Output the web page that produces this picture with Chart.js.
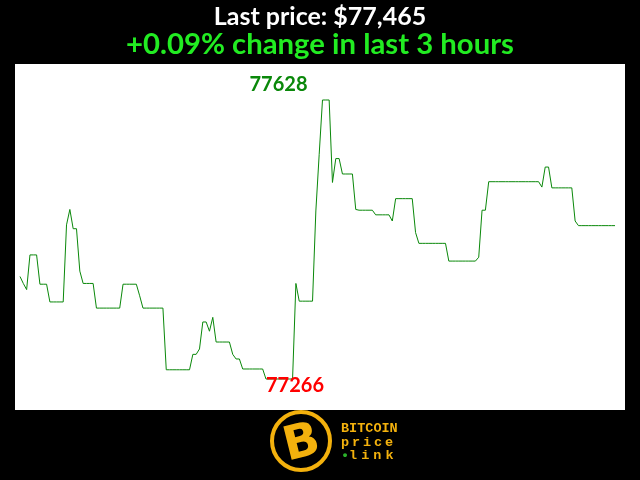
<!DOCTYPE html>
<html>
<head>
<meta charset="utf-8">
<script src="https://cdn.jsdelivr.net/npm/chart.js@4.4.0/dist/chart.umd.min.js"></script>
<style>
  body { margin: 0; background: #000; }
  #wrap { position: relative; width: 640px; height: 480px; }
  .head { position: absolute; left: 0; width: 640px; text-align: center; font-family: Lato, sans-serif; font-weight: bold; white-space: nowrap; }
  #title { top: 0px; font-size: 25px; line-height: 30px; color: #fff; }
  #subtitle { top: 25px; font-size: 29.3px; line-height: 35px; color: #22ec22; }
  #logo { position: absolute; left: 270px; top: 410px; width: 62px; height: 62px; }
  #ring { position: absolute; left: 0; top: 0; width: 54px; height: 54px; border: 4px solid #f3b10d; border-radius: 50%; }
  #bee { position: absolute; left: 0; top: 3px; width: 62px; text-align: center; font: bold 47px "DejaVu Sans", sans-serif; color: #f3b10d; transform: rotate(-14deg); }
  #brand { position: absolute; left: 341px; top: 422px; font: bold 13.5px "Liberation Mono", monospace; line-height: 13.5px; color: #f3b10d; }
  #brand .p { letter-spacing: 2.9px; }
  #brand .l { letter-spacing: 4px; }
  #brand .dot { color: #2ab02a; letter-spacing: 0; }
</style>
</head>
<body>
<div id="wrap">
  <canvas id="myChart" width="640" height="480"></canvas>
  <div id="title" class="head"></div>
  <div id="subtitle" class="head"></div>
  <div id="logo"><div id="ring"></div><div id="bee">B</div></div>
  <div id="brand">BITCOIN<br><span class="p">price</span><br><span class="dot">&bull;</span><span class="l">link</span></div>
</div>
<script>
// one price per minute, last 3 hours
let prices = [
  77399, 77390, 77382, 77427, 77427, 77427, 77389, 77389, 77389, 77366,
  77366, 77366, 77366, 77366, 77466, 77486, 77461, 77461, 77406, 77390,
  77390, 77390, 77390, 77358, 77358, 77358, 77358, 77358, 77358, 77358,
  77358, 77389, 77389, 77389, 77389, 77389, 77374, 77358, 77358, 77358,
  77358, 77358, 77358, 77358, 77278, 77278, 77278, 77278, 77278, 77278,
  77278, 77278, 77298, 77298, 77305, 77340, 77340, 77328, 77346, 77314,
  77314, 77314, 77314, 77314, 77298, 77292, 77292, 77279, 77279, 77279,
  77279, 77279, 77279, 77279, 77266, 77266, 77266, 77266, 77266, 77266,
  77266, 77266, 77266, 77390, 77367, 77367, 77367, 77367, 77367, 77484,
  77557, 77628, 77628, 77628, 77521, 77552, 77552, 77532, 77532, 77532,
  77532, 77486, 77485, 77485, 77485, 77485, 77485, 77479, 77479, 77479,
  77479, 77479, 77471, 77500, 77500, 77500, 77500, 77500, 77500, 77456,
  77442, 77442, 77442, 77442, 77442, 77442, 77442, 77442, 77442, 77419,
  77419, 77419, 77419, 77419, 77419, 77419, 77419, 77419, 77424, 77485,
  77485, 77522, 77522, 77522, 77522, 77522, 77522, 77522, 77522, 77522,
  77522, 77522, 77522, 77522, 77522, 77522, 77522, 77515, 77541, 77541,
  77514, 77514, 77514, 77514, 77514, 77514, 77514, 77471, 77465, 77465,
  77465, 77465, 77465, 77465, 77465, 77465, 77465, 77465, 77465, 77465
];
let minutes = prices.map((p, i) => i);

let titleText = "Last price: $77,465";
let subtitleText = "+0.09% change in last 3 hours";

document.getElementById("title").innerText = titleText;
document.getElementById("subtitle").innerText = subtitleText;

let points = minutes.map(i => ({ x: i, y: prices[i] }));
let maxVal = Math.max.apply(null, prices);
let minVal = Math.min.apply(null, prices);

const plotBackground = {
  id: "plotBackground",
  beforeDraw(chart) {
    let a = chart.chartArea;
    let ctx = chart.ctx;
    ctx.save();
    ctx.fillStyle = "#000";
    ctx.fillRect(0, 0, chart.width, chart.height);
    ctx.fillStyle = "#fff";
    ctx.fillRect(a.left, a.top, a.right - a.left, a.bottom - a.top);
    ctx.restore();
  }
};

const extremeLabels = {
  id: "extremeLabels",
  afterDatasetsDraw(chart) {
    let ctx = chart.ctx;
    let xs = chart.scales.x;
    let ys = chart.scales.y;
    let iMax = prices.indexOf(maxVal);
    let iMin = prices.indexOf(minVal);
    ctx.save();
    ctx.font = "bold 20px Lato";
    ctx.textAlign = "center";
    ctx.textBaseline = "middle";
    ctx.fillStyle = "#0a880a";
    ctx.fillText(String(maxVal), xs.getPixelForValue(iMax) - 44, ys.getPixelForValue(maxVal) - 15);
    ctx.fillStyle = "#ff0000";
    ctx.fillText(String(minVal), xs.getPixelForValue(iMin) + 29, ys.getPixelForValue(minVal) + 6.5);
    ctx.restore();
  }
};

let ctx = document.getElementById("myChart").getContext("2d");
let chart = new Chart(ctx, {
  type: "line",
  data: {
    datasets: [
      {
        data: points,
        borderColor: "#0a880a",
        borderWidth: 1,
        pointRadius: 0,
        tension: 0,
        fill: false
      }
    ]
  },
  options: {
    responsive: false,
    animation: false,
    layout: { padding: { left: 15, right: 15, top: 64, bottom: 70 } },
    scales: {
      x: { type: "linear", min: -1.5, max: 182, display: false },
      y: { min: 77225.8, max: 77674.7, display: false }
    },
    plugins: {
      legend: { display: false },
      tooltip: { enabled: false },
      title: { display: false }
    }
  },
  plugins: [plotBackground, extremeLabels]
});
</script>
</body>
</html>
